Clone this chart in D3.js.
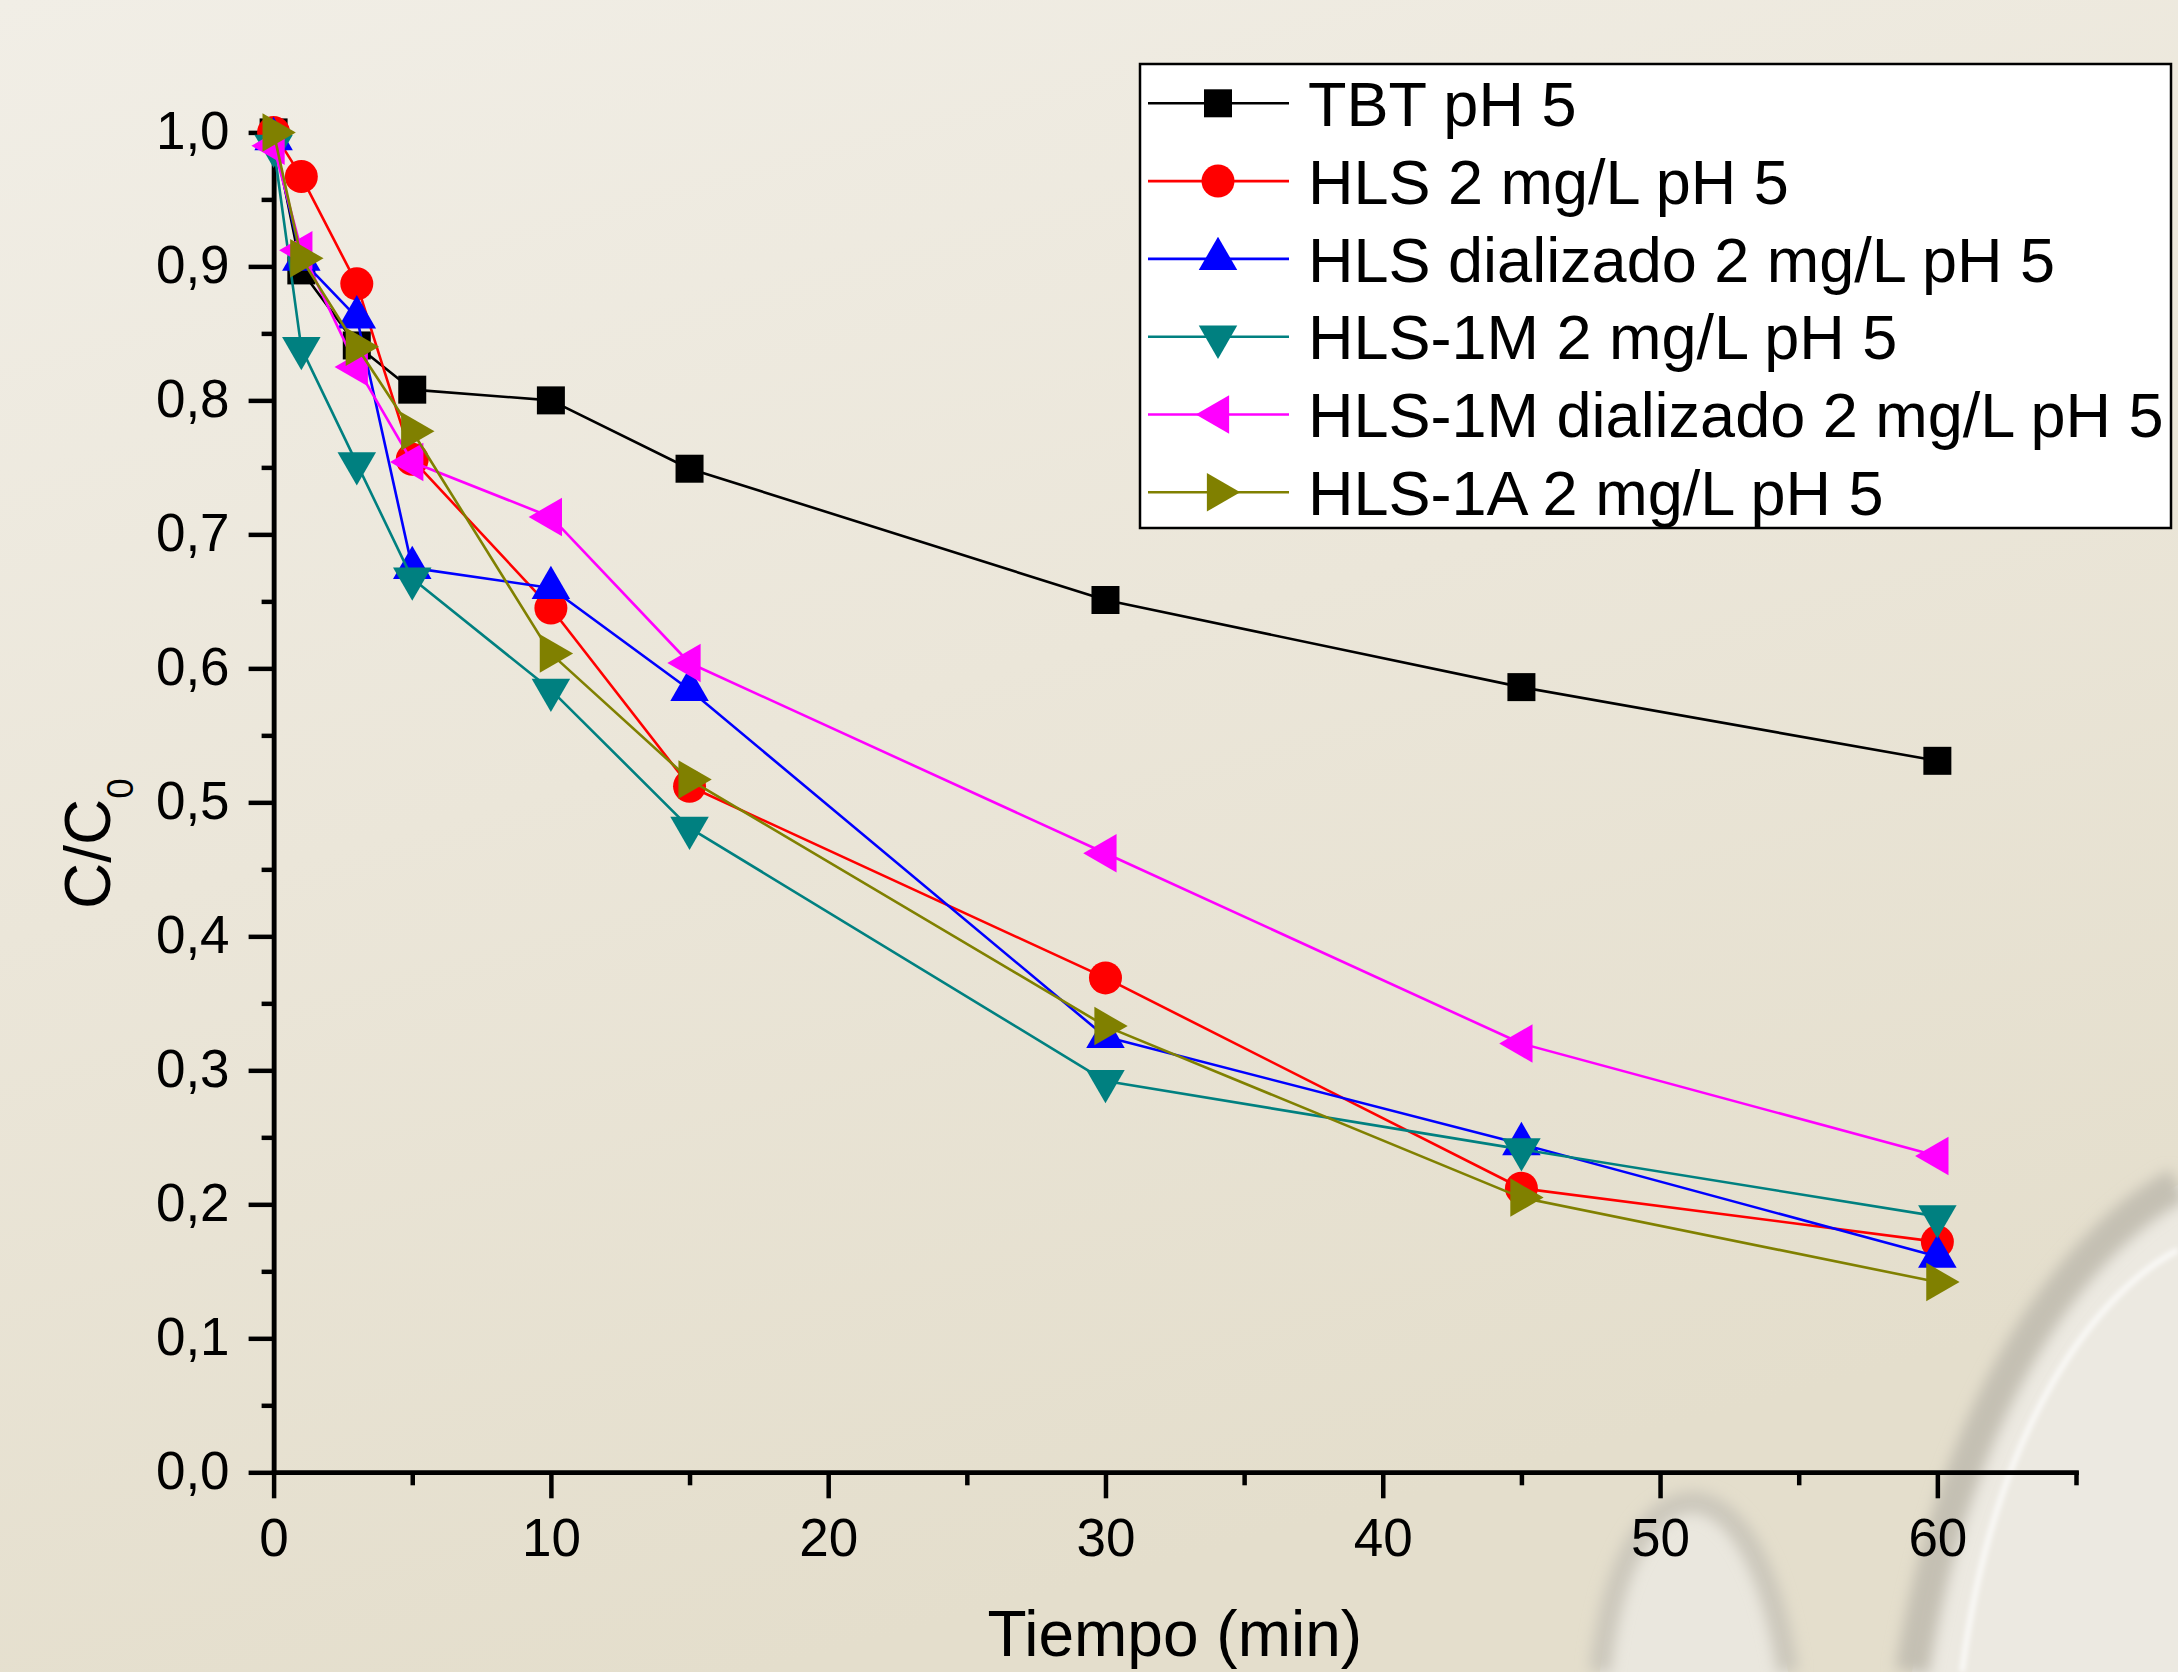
<!DOCTYPE html>
<html>
<head>
<meta charset="utf-8">
<script src="https://cdn.jsdelivr.net/npm/d3@7/dist/d3.min.js"></script>
<style>
html,body{margin:0;padding:0;background:#EEEAE0;}
svg{display:block;}
text{font-family:"Liberation Sans", Arial, sans-serif;fill:#000;}
</style>
</head>
<body>
<svg id="chart" width="2178" height="1672"></svg>
<script>
// ---- data ----
const times = [0, 1, 3, 5, 10, 15, 30, 45, 60];
const seriesNames = ["TBT pH 5", "HLS 2 mg/L pH 5", "HLS dializado 2 mg/L pH 5", "HLS-1M 2 mg/L pH 5", "HLS-1M dializado 2 mg/L pH 5", "HLS-1A 2 mg/L pH 5"];
const tbt        = [1.000, 0.897, 0.841, 0.808, 0.800, 0.749, 0.651, 0.586, 0.531];
const hls        = [1.000, 0.967, 0.887, 0.756, 0.645, 0.512, 0.369, 0.212, 0.172];
const hlsDial    = [0.995, 0.905, 0.862, 0.675, 0.660, 0.584, 0.325, 0.245, 0.161];
const hls1m      = [0.990, 0.839, 0.753, 0.667, 0.584, 0.481, 0.292, 0.241, 0.191];
const hls1mDial  = [0.990, 0.912, 0.825, 0.754, 0.713, 0.604, 0.462, 0.320, 0.236];
const hls1a      = [1.000, 0.906, 0.840, 0.777, 0.611, 0.517, 0.333, 0.205, 0.142];
const seriesValues = [tbt, hls, hlsDial, hls1m, hls1mDial, hls1a];
const seriesColors = ["#000000", "#FF0000", "#0000FF", "#008080", "#FF00FF", "#808000"];
const seriesShapes = ["square", "circle", "up", "down", "left", "right"];
const xTicks = [0, 10, 20, 30, 40, 50, 60];
const xTickLabels = ["0", "10", "20", "30", "40", "50", "60"];
const xMinor = [5, 15, 25, 35, 45, 55, 65];
const yTicks = [0, 0.1, 0.2, 0.3, 0.4, 0.5, 0.6, 0.7, 0.8, 0.9, 1.0];
const yTickLabels = ["0,0", "0,1", "0,2", "0,3", "0,4", "0,5", "0,6", "0,7", "0,8", "0,9", "1,0"];
const yMinor = [0.05, 0.15, 0.25, 0.35, 0.45, 0.55, 0.65, 0.75, 0.85, 0.95];
const xTitle = "Tiempo (min)";

// ---- layout ----
const svg = d3.select("#chart");
const W = 2178, H = 1672;
const x = d3.scaleLinear().domain([0, 65]).range([273.6, 2076]);
const y = d3.scaleLinear().domain([0, 1]).range([1472.3, 132.4]);

// background
const defs = svg.append("defs");
const bg = defs.append("linearGradient").attr("id", "bg").attr("x1", 0).attr("y1", 0).attr("x2", 0.35).attr("y2", 1);
bg.append("stop").attr("offset", 0).attr("stop-color", "#F1EEE6");
bg.append("stop").attr("offset", 0.5).attr("stop-color", "#EBE6D9");
bg.append("stop").attr("offset", 1).attr("stop-color", "#E4DECC");
const blur = defs.append("filter").attr("id", "blur").attr("x", "-20%").attr("y", "-20%").attr("width", "140%").attr("height", "140%");
blur.append("feGaussianBlur").attr("stdDeviation", 7);
const blur2 = defs.append("filter").attr("id", "blur2");
blur2.append("feGaussianBlur").attr("stdDeviation", 2.5);

svg.append("rect").attr("width", W).attr("height", H).attr("fill", "url(#bg)");
const deco = svg.append("g");
deco.append("path").attr("d", "M2178,1185 C2090,1230 1960,1380 1912,1672 L2178,1672 Z").attr("fill", "#ECE9E1");
deco.append("path").attr("d", "M2178,1185 C2090,1230 1960,1380 1912,1672").attr("fill", "none").attr("stroke", "#C4C0B3").attr("stroke-width", 34).attr("filter", "url(#blur)");
deco.append("path").attr("d", "M2178,1250 C2100,1290 1995,1420 1962,1672").attr("fill", "none").attr("stroke", "#FFFFFF").attr("stroke-opacity", 0.7).attr("stroke-width", 6).attr("filter", "url(#blur2)");
deco.append("path").attr("d", "M1600,1672 C1612,1560 1650,1503 1693,1502 C1738,1505 1772,1570 1788,1672 Z").attr("fill", "#EAE7DE");
deco.append("path").attr("d", "M1600,1672 C1612,1560 1650,1503 1693,1502 C1738,1505 1772,1570 1788,1672").attr("fill", "none").attr("stroke", "#CCC8BC").attr("stroke-width", 22).attr("filter", "url(#blur)");

// axes
const axisG = svg.append("g");
function styleAxis(g) {
  g.selectAll("path.domain").attr("stroke", "#000").attr("stroke-width", 4.5).attr("stroke-linecap", "square");
  g.selectAll(".tick line").attr("stroke", "#000").attr("stroke-width", 4.5);
  g.selectAll(".tick text").style("font-family", "'Liberation Sans', Arial, sans-serif").attr("fill", "#000");
}
const gxm = axisG.append("g").attr("transform", `translate(0,${y(0)})`)
  .call(d3.axisBottom(x).tickValues(xMinor).tickSize(13).tickSizeOuter(0).tickFormat(""));
styleAxis(gxm);
const gx = axisG.append("g").attr("transform", `translate(0,${y(0)})`)
  .call(d3.axisBottom(x).tickValues(xTicks).tickSize(26).tickSizeOuter(0).tickPadding(22)
    .tickFormat((d, i) => xTickLabels[i]));
styleAxis(gx);
gx.selectAll(".tick text").attr("font-size", 53).attr("dy", "0.71em").attr("y", 46);

const gym = axisG.append("g").attr("transform", `translate(${x(0)},0)`)
  .call(d3.axisLeft(y).tickValues(yMinor).tickSize(12).tickSizeOuter(0).tickFormat(""));
styleAxis(gym);
const gy = axisG.append("g").attr("transform", `translate(${x(0)},0)`)
  .call(d3.axisLeft(y).tickValues(yTicks).tickSize(25).tickSizeOuter(0).tickPadding(19)
    .tickFormat((d, i) => yTickLabels[i]));
styleAxis(gy);
gy.selectAll(".tick text").attr("font-size", 53).attr("dy", "0.3em").attr("x", -44);

// axis titles
svg.append("text").attr("x", (x(0) + x(65)) / 2).attr("y", 1656).attr("text-anchor", "middle")
  .attr("font-size", 64).text(xTitle);
const yt = svg.append("text").attr("transform", "translate(110,909) rotate(-90)").attr("text-anchor", "start").attr("font-size", 64);
yt.append("tspan").text("C/C");
yt.append("tspan").attr("font-size", 37).attr("dy", 23).text("0");

// markers
function markerPath(shape) {
  switch (shape) {
    case "square": return d3.symbol().type(d3.symbolSquare).size(28 * 28)();
    case "circle": return d3.symbol().type(d3.symbolCircle).size(Math.PI * 16.5 * 16.5)();
    default: return d3.symbol().type(d3.symbolTriangle).size(642)();
  }
}
function markerRot(shape) {
  return {up: 0, down: 180, left: -90, right: 90}[shape] || 0;
}

const line = d3.line().x((d) => x(d[0])).y((d) => y(d[1]));
const plot = svg.append("g");
seriesValues.forEach((vals, si) => {
  const pts = times.map((t, i) => [t, vals[i]]);
  const g = plot.append("g");
  g.append("path").datum(pts).attr("d", line).attr("fill", "none")
    .attr("stroke", seriesColors[si]).attr("stroke-width", 2.6).attr("stroke-linejoin", "round");
  g.selectAll("path.m").data(pts).join("path").attr("class", "m")
    .attr("d", markerPath(seriesShapes[si]))
    .attr("transform", (d) => `translate(${x(d[0])},${y(d[1])}) rotate(${markerRot(seriesShapes[si])})`)
    .attr("fill", seriesColors[si]);
});

// legend
const leg = svg.append("g");
leg.append("rect").attr("x", 1140).attr("y", 64).attr("width", 1031).attr("height", 464)
  .attr("fill", "#FFFFFF").attr("stroke", "#000").attr("stroke-width", 2.5);
const rowY = d3.scaleLinear().domain([0, 5]).range([103.3, 492.3]);
seriesNames.forEach((name, i) => {
  const cy = rowY(i);
  leg.append("line").attr("x1", 1148).attr("x2", 1289).attr("y1", cy).attr("y2", cy)
    .attr("stroke", seriesColors[i]).attr("stroke-width", 2.6);
  leg.append("path").attr("d", markerPath(seriesShapes[i]))
    .attr("transform", `translate(1218,${cy}) rotate(${markerRot(seriesShapes[i])})`)
    .attr("fill", seriesColors[i]);
  leg.append("text").attr("x", 1308).attr("y", cy + 22.7).attr("font-size", 63).text(name);
});
</script>
</body>
</html>
